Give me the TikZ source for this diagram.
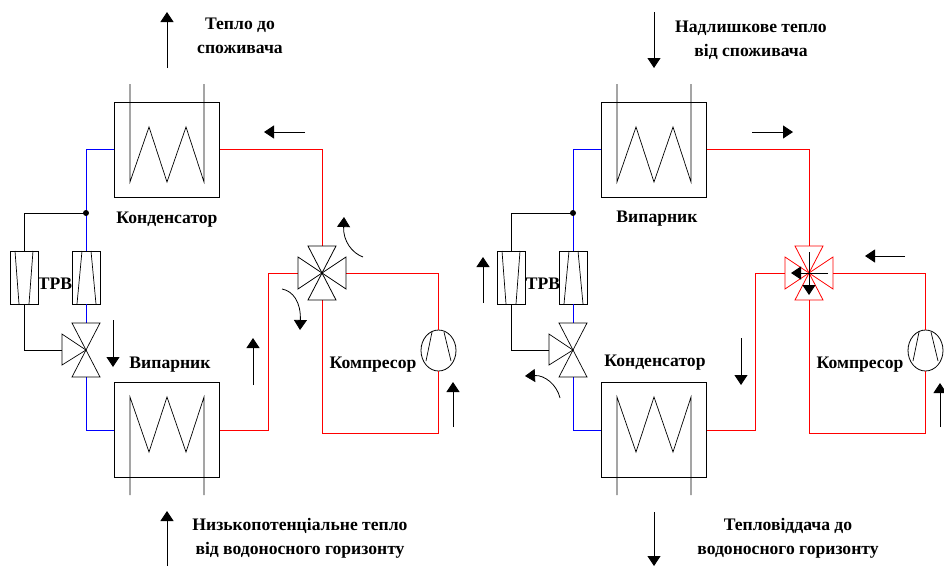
\documentclass[tikz,border=0pt]{standalone}
\usepackage{fontspec}
\setmainfont{Liberation Serif}
\usetikzlibrary{arrows.meta,calc,shapes.geometric}
\definecolor{pipered}{RGB}{255,0,0}
\definecolor{pipeblue}{RGB}{0,0,255}
\tikzset{
  lbl/.style={font=\fontsize{17.6}{24}\selectfont\bfseries,align=center,inner sep=0pt},
  hxbox/.style={draw=black,line width=0.9pt,minimum width=105pt,minimum height=95pt,inner sep=0pt},
  trvbox/.style={draw=black,line width=0.8pt,minimum width=28pt,minimum height=53pt,inner sep=0pt},
  compbox/.style={draw=black,ellipse,line width=0.8pt,minimum width=35pt,minimum height=41pt,inner sep=0pt},
  redpipe/.style={draw=pipered,line width=0.8pt},
  bluepipe/.style={draw=pipeblue,line width=0.8pt},
  blackpipe/.style={draw=black,line width=0.8pt},
  thin line/.style={draw=black,line width=0.7pt},
  flow/.style={draw=black,line width=0.8pt,-{Triangle[length=10pt,width=13pt]}},
}
% #1 prefix, #2 x offset, #3 valve colour
\newcommand{\heatunit}[3]{%
\begin{scope}[xshift=#2pt]
  \node[hxbox] (#1top) at (167,149.5) {};
  \node[hxbox] (#1bot) at (167,430) {};
  \node[trvbox] (#1ta) at (24,277.5) {};
  \node[trvbox] (#1tb) at (86,277.5) {};
  \node[compbox] (#1comp) at (438.5,350.5) {};
  \coordinate (#1j) at (86,213);
  \coordinate (#1vtop) at (86,323);
  \coordinate (#1vbot) at (86,377);
  \coordinate (#1vleft) at (62,350);
  \coordinate (#1vc) at (86,350);
  \coordinate (#1wc) at (322,273);
  \coordinate (#1wtop) at (322,246);
  \coordinate (#1wbot) at (322,300);
  \coordinate (#1wleft) at (298,273);
  \coordinate (#1wright) at (346,273);
  % pipes
  \draw[bluepipe] (#1top.west) -| (#1j);
  \draw[bluepipe] (#1j) -- (#1tb.north);
  \draw[bluepipe] (#1tb.south) -- (#1vtop);
  \draw[bluepipe] (#1vbot) |- (#1bot.west);
  \draw[blackpipe] (#1j) -| (#1ta.north);
  \draw[blackpipe] (#1ta.south) |- (#1vleft);
  \fill[black] (#1j) circle (3pt);
  \draw[redpipe] (#1top.east) -| (#1wtop);
  \draw[redpipe] (#1bot.east) -| (268.5,273) -- (#1wleft);
  \draw[redpipe] (#1wright) -| (#1comp.north);
  \draw[redpipe] (#1comp.south) |- (322,433) -- (#1wbot);
  % heat exchanger coils
  \draw[thin line] (130,84) -- (130,182) -- (149,127) -- (167,182) -- (186,127) -- (204,182) -- (204,84);
  \draw[thin line] (130,495) -- (130,397) -- (149,452) -- (167,397) -- (186,452) -- (204,397) -- (204,495);
  % TRV inner lines
  \draw[thin line] (15,251) -- (19,304) (33,251) -- (29,304);
  \draw[thin line] (82,251) -- (77,304) (91,251) -- (96,304);
  % three-way valve
  \draw[thin line] (#1vc) -- (72,323) -- (100,323) -- cycle;
  \draw[thin line] (#1vc) -- (72,377) -- (100,377) -- cycle;
  \draw[thin line] (#1vc) -- (62,334) -- (62,365) -- cycle;
  % four-way valve
  \draw[draw=#3,line width=0.8pt] (#1wc) -- (308,246) -- (336,246) -- cycle;
  \draw[draw=#3,line width=0.8pt] (#1wc) -- (308,300) -- (336,300) -- cycle;
  \draw[draw=#3,line width=0.8pt] (#1wc) -- (298,257) -- (298,289) -- cycle;
  \draw[draw=#3,line width=0.8pt] (#1wc) -- (346,257) -- (346,289) -- cycle;
  % compressor
  \draw[thin line] (432,332) -- (426,361) (444,332) -- (451,361);
\end{scope}}
\begin{document}
\begin{tikzpicture}[x=1pt,y=-1pt]
\useasboundingbox (0,0) rectangle (944,566);
\heatunit{L}{0}{black}
\heatunit{R}{487}{pipered}
% left flow arrows
\draw[flow] (167,68) -- (167,12);
\draw[flow] (305,132) -- (264,132);
\draw[flow] (113,320) -- (113,367);
\draw[flow] (253,385) -- (253,338);
\draw[flow] (453,427) -- (453,382);
\draw[flow] (167,566) -- (167,511);
\draw[flow] (363,257) .. controls (352,253) and (343,241) .. (344,217);
\draw[flow] (282,289) .. controls (293,291) and (301,302) .. (300,330);
% right flow arrows
\draw[flow] (654,12) -- (654,68);
\draw[flow] (752,132) -- (793,132);
\draw[flow] (483,303) -- (483,257);
\draw[flow] (741,338) -- (741,385);
\draw[flow] (940,427) -- (940,383);
\draw[flow] (654,512) -- (654,566);
\draw[flow] (905,256) -- (865,256);
\draw[flow] (828,273) -- (791,273);
\draw[flow] (809,252) -- (809,295);
\draw[flow] (560,398) .. controls (557,385) and (545,375) .. (525,376);
% labels
\node[lbl] (t1) at (240,36) {Тепло до\\споживача};
\node[lbl] (t2) at (167,219.5) {Конденсатор};
\node[lbl] (t3) at (170,364.5) {Випарник};
\node[lbl] (t4) at (55,283.5) {ТРВ};
\node[lbl] (t5) at (373,364.5) {Компресор};
\node[lbl] (t6) at (300,538.5) {Низькопотенціальне тепло\\від водоносного горизонту};
\node[lbl] (t7) at (751,40.5) {Надлишкове тепло\\від споживача};
\node[lbl] (t8) at (657,218.5) {Випарник};
\node[lbl] (t9) at (655,362.5) {Конденсатор};
\node[lbl] (t10) at (543,283.5) {ТРВ};
\node[lbl] (t11) at (860,364.5) {Компресор};
\node[lbl] (t12) at (788,538.5) {Тепловіддача до\\водоносного горизонту};
\end{tikzpicture}
\end{document}
